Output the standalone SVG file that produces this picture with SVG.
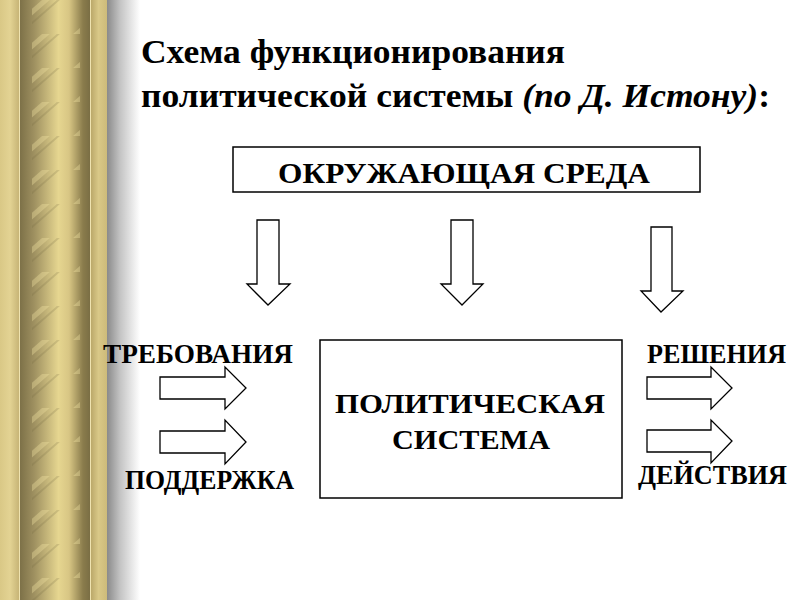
<svg xmlns="http://www.w3.org/2000/svg" width="800" height="600" viewBox="0 0 800 600">
<defs>
<linearGradient id="band" x1="0" y1="0" x2="1" y2="0">
<stop offset="0" stop-color="#d9c886"/>
<stop offset="0.5" stop-color="#e3d393"/>
<stop offset="1" stop-color="#c4b173"/>
</linearGradient>
<linearGradient id="band2" x1="0" y1="0" x2="1" y2="0">
<stop offset="0" stop-color="#b7a466"/>
<stop offset="0.5" stop-color="#d9c887"/>
<stop offset="1" stop-color="#cdbb7a"/>
</linearGradient>
<linearGradient id="col" x1="0" y1="0" x2="1" y2="0">
<stop offset="0" stop-color="#7d7148"/>
<stop offset="0.2" stop-color="#9e9060"/>
<stop offset="0.55" stop-color="#e6d690"/>
<stop offset="0.7" stop-color="#d8c684"/>
<stop offset="0.9" stop-color="#8a7c4c"/>
<stop offset="1" stop-color="#7a6e44"/>
</linearGradient>
<linearGradient id="shadow" x1="0" y1="0" x2="1" y2="0">
<stop offset="0" stop-color="#8a8a8a"/>
<stop offset="0.4" stop-color="#c4c4c4"/>
<stop offset="1" stop-color="#ffffff"/>
</linearGradient>
<pattern id="twist" width="70" height="34" patternUnits="userSpaceOnUse">
<path d="M0,40 L55,-8" stroke="#f2e4a4" stroke-width="5" stroke-opacity="0.35"/>
<path d="M8,44 L63,-4" stroke="#6e623a" stroke-width="2" stroke-opacity="0.2"/>
</pattern>
<style>
.box{fill:#ffffff;stroke:#000000;stroke-width:1.5}
.arr{fill:#ffffff;stroke:#000000;stroke-width:1.3;stroke-linejoin:miter}
.lbl{font-family:"Liberation Serif","Times New Roman",serif;font-weight:bold;fill:#000000}
.ttl{font-family:"Liberation Serif","Times New Roman",serif;font-weight:bold;fill:#000000;font-size:34px}
</style>
</defs>
<rect x="0" y="0" width="800" height="600" fill="#ffffff"/>
<g id="background">
<rect x="0" y="0" width="20" height="600" fill="url(#band)"/>
<rect x="20" y="0" width="70" height="600" fill="url(#col)"/>
<rect x="32" y="0" width="48" height="600" fill="url(#twist)"/>
<rect x="90" y="0" width="17" height="600" fill="url(#band2)"/>
<rect x="19" y="0" width="1" height="600" fill="#efe3b0"/>
<rect x="90" y="0" width="1" height="600" fill="#efe3b0"/>
<rect x="107" y="0" width="33" height="600" fill="url(#shadow)"/>
</g>
<g id="title">
<text class="ttl" x="141" y="63" textLength="424" lengthAdjust="spacingAndGlyphs">Схема функционирования</text>
<text class="ttl" x="141" y="107" textLength="629" lengthAdjust="spacingAndGlyphs">политической системы <tspan font-style="italic">(по Д. Истону)</tspan>:</text>
</g>
<g id="environment">
<rect class="box" x="233" y="147" width="467" height="45"/>
<text class="lbl" x="278" y="183" font-size="29" textLength="372" lengthAdjust="spacingAndGlyphs">ОКРУЖАЮЩАЯ СРЕДА</text>
</g>
<g id="political-system">
<rect class="box" x="320" y="340" width="302" height="158"/>
<text class="lbl" x="470" y="413" font-size="28" text-anchor="middle" textLength="270" lengthAdjust="spacingAndGlyphs">ПОЛИТИЧЕСКАЯ</text>
<text class="lbl" x="471" y="449" font-size="28" text-anchor="middle" textLength="158" lengthAdjust="spacingAndGlyphs">СИСТЕМА</text>
</g>
<g id="demands">
<text class="lbl" x="103" y="363" font-size="27" textLength="190" lengthAdjust="spacingAndGlyphs">ТРЕБОВАНИЯ</text>
</g>
<g id="support">
<text class="lbl" x="125" y="489" font-size="27" textLength="169" lengthAdjust="spacingAndGlyphs">ПОДДЕРЖКА</text>
</g>
<g id="decisions">
<text class="lbl" x="647" y="363" font-size="27" textLength="139" lengthAdjust="spacingAndGlyphs">РЕШЕНИЯ</text>
</g>
<g id="actions">
<text class="lbl" x="638" y="484" font-size="27" textLength="149" lengthAdjust="spacingAndGlyphs">ДЕЙСТВИЯ</text>
</g>
<g id="connectors">
<polygon class="arr" points="257,220 279,220 279,284 290,284 268,305 247,284 257,284"/>
<polygon class="arr" points="451,220 473,220 473,284 483,284 462,305 441,284 451,284"/>
<polygon class="arr" points="651,227 672,227 672,291 683,291 661,312 641,291 651,291"/>
<polygon class="arr" points="160,377 225,377 225,367 246,388 225,409 225,399 160,399"/>
<polygon class="arr" points="160,431 225,431 225,420 246,442 225,464 225,453 160,453"/>
<polygon class="arr" points="647,377 711,377 711,367 732,388 711,409 711,399 647,399"/>
<polygon class="arr" points="647,430 711,430 711,420 732,441 711,463 711,452 647,452"/>
</g>
</svg>
